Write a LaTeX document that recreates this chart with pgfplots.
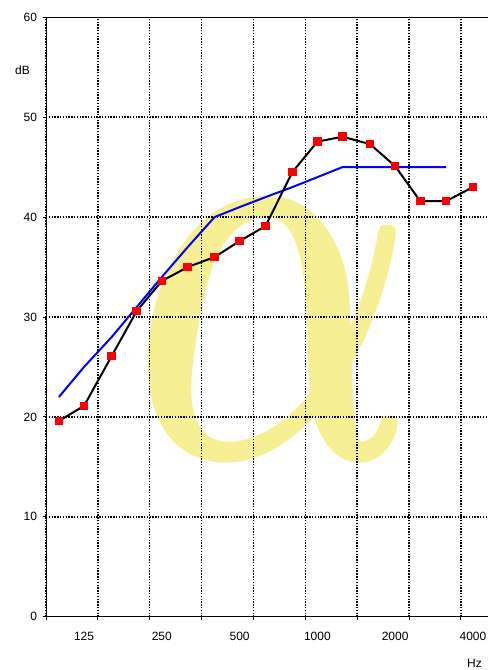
\documentclass[border=0pt]{standalone}
\usepackage{pgfplots}
\pgfplotsset{compat=1.18}
\usepackage{fontspec}
\setmainfont{Liberation Sans}
\font\wmab=cmmib10 at 20pt
\definecolor{wmyellow}{RGB}{246,239,148}
\begin{document}
\begin{tikzpicture}
\useasboundingbox (-46pt,-53.3pt) rectangle (442pt,616.7pt);
% watermark
\node[anchor=center, inner sep=0pt, text=wmyellow, transform shape, xscale=19, yscale=29] at (229pt,287pt)
  {\wmab\char11};
\begin{axis}[
  at={(0,0)}, anchor=south west,
  scale only axis,
  width=442pt, height=599.4pt,
  xmode=log, log basis x=2,
  xmin=89.09, xmax=4574,
  ymin=0, ymax=60,
  axis x line*=box, axis y line*=left,
  axis line style={line width=0.9pt},
  xtick={89.09,141.42,224.49,356.36,565.69,897.98,1425.4,2262.7,3591.8},
  xticklabels={},
  xtick pos=bottom, ytick pos=left,
  extra x ticks={125,250,500,1000,2000,4000},
  extra x tick labels={125,250,500,1000,2000,4000},
  extra x tick style={major tick length=0pt, grid=none},
  ytick={0,10,20,30,40,50,60},
  tick align=outside,
  major tick length=3.5pt,
  tick style={black, line width=0.9pt},
  grid=major,
  major grid style={black, line width=1.5pt, dash pattern=on 1.4pt off 1.4pt},
  tick label style={font=\fontsize{12}{14}\selectfont},
  /pgf/number format/assume math mode=true,
  xticklabel style={yshift=-12pt},
  yticklabel style={xshift=-2pt},
  clip=false,
]
\addplot[blue, line width=2pt] coordinates {
 (100,22) (125,25) (160,28) (200,31) (250,34) (315,37) (400,40) (500,41)
 (630,42) (800,43) (1000,44) (1250,45) (1600,45) (2000,45) (2500,45) (3150,45)};
\addplot[black, line width=2pt, mark=square*, mark size=3.8pt,
  mark options={draw=red, fill=red, line width=0pt}] coordinates {
 (100,19.6) (125,21.1) (160,26.1) (200,30.6) (250,33.6) (315,35.0) (400,36.0)
 (500,37.6) (630,39.1) (800,44.5) (1000,47.55) (1250,48.05) (1600,47.3)
 (2000,45.1) (2500,41.6) (3150,41.6) (4000,43.0)};
\end{axis}
\node[anchor=west, inner sep=0pt, font=\fontsize{12}{14}\selectfont] at (-31pt,546pt) {dB};
\node[anchor=north west, inner sep=0pt, font=\fontsize{12}{14}\selectfont] at (421pt,-42pt) {Hz};
\end{tikzpicture}
\end{document}
